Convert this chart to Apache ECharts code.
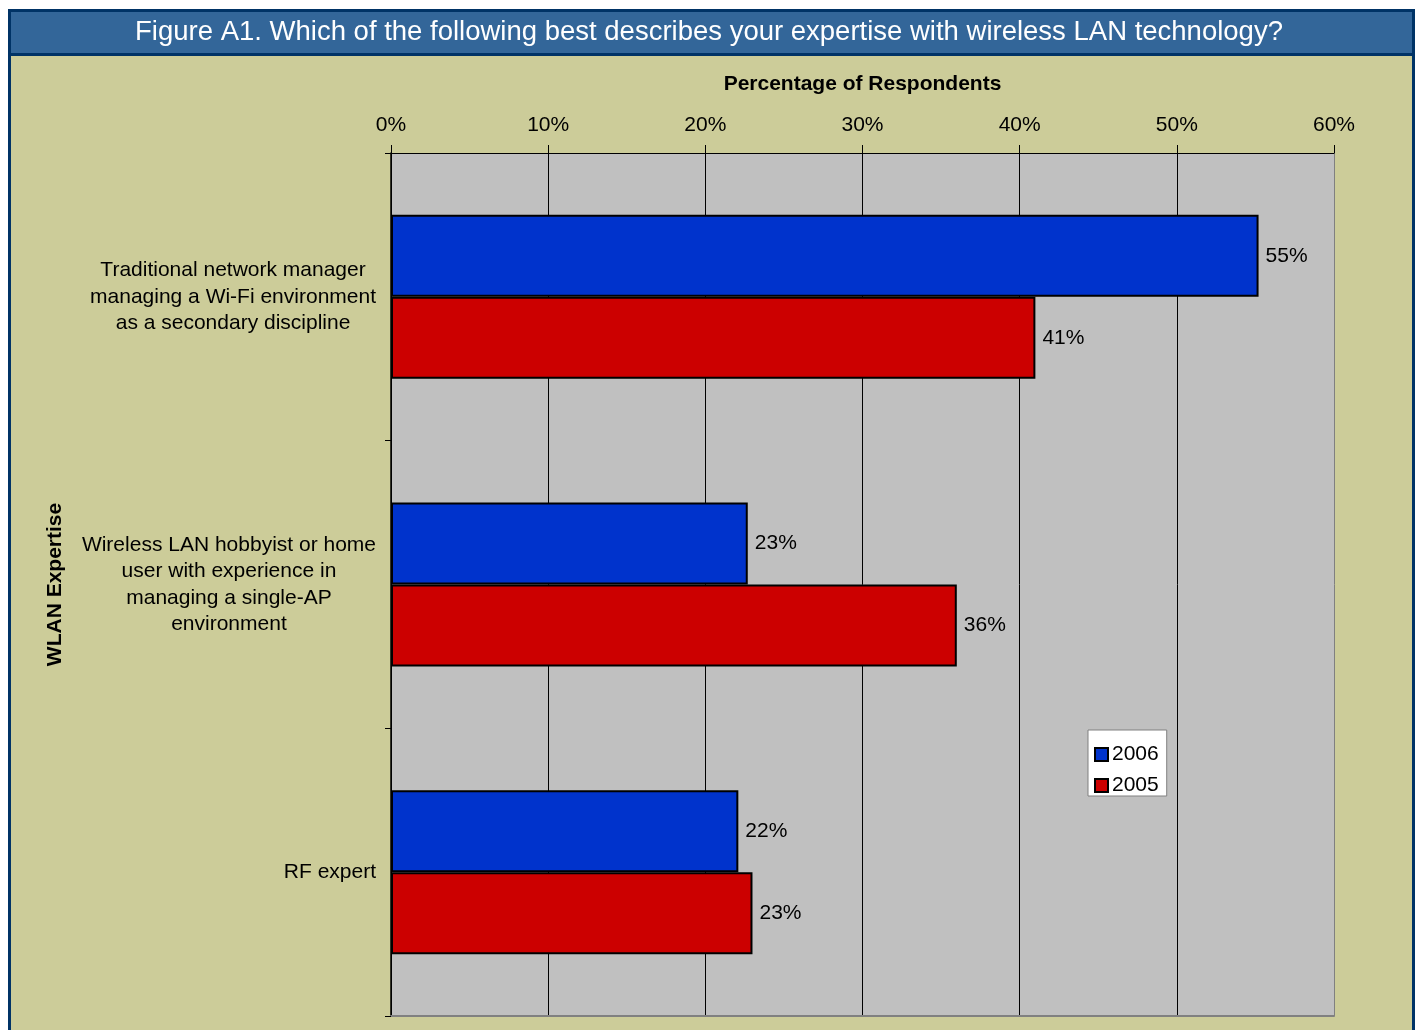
<!DOCTYPE html>
<html>
<head>
<meta charset="utf-8">
<script src="https://cdn.jsdelivr.net/npm/echarts@6/dist/echarts.min.js"></script>
<style>
html,body{margin:0;padding:0;background:#ffffff;}
#chart{width:1418px;height:1030px;}
</style>
</head>
<body>
<div id="chart"></div>
<script>
var titleText = 'Figure A1. Which of the following best describes your expertise with wireless LAN technology?';
var categories = [
  'Traditional network manager\nmanaging a Wi-Fi environment\nas a secondary discipline',
  'Wireless LAN hobbyist or home\nuser with experience in\nmanaging a single-AP\nenvironment',
  'RF expert'
];
var seriesNames = ['2006', '2005'];
var values2006 = [55.2, 22.7, 22.1];
var values2005 = [41.0, 36.0, 23.0];
var xTicks = [0, 10, 20, 30, 40, 50, 60];
var xAxisTitle = 'Percentage of Respondents';
var yAxisTitle = 'WLAN Expertise';

var FONT = '"Liberation Sans", Arial, sans-serif';
var chart = echarts.init(document.getElementById('chart'));

var splitColors = xTicks.map(function (t, i) { return i === xTicks.length - 1 ? '#808080' : '#000000'; });

function labelFmt(p) { return Math.round(p.value) + '%'; }

var option = {
  backgroundColor: '#ffffff',
  animation: false,
  textStyle: { fontFamily: FONT },
  graphic: [
    { type: 'rect', z: -10, shape: { x: 9.5, y: 10.5, width: 1404, height: 1040 },
      style: { fill: '#CCCC99', stroke: '#003366', lineWidth: 3 } },
    { type: 'rect', z: -9, shape: { x: 9.5, y: 10.5, width: 1404, height: 44 },
      style: { fill: '#336699', stroke: '#003366', lineWidth: 3 } },
    { type: 'text', z: 10, left: 'center', top: 18,
      style: { text: titleText, fill: '#ffffff', font: '27.5px ' + FONT } }
  ],
  grid: {
    left: 391, right: 1418 - 1334, top: 153, bottom: 1030 - 1016,
    show: true, backgroundColor: '#C0C0C0', borderWidth: 0, containLabel: false
  },
  legend: {
    orient: 'vertical', left: 1088, top: 730,
    backgroundColor: '#ffffff', borderColor: '#808080', borderWidth: 1,
    padding: [14, 8, 0, 6], itemGap: 10, itemWidth: 13, itemHeight: 13,
    icon: 'rect',
    textStyle: { fontSize: 21, color: '#000', fontFamily: FONT, padding: [0, 0, 0, -1] },
    data: seriesNames
  },
  xAxis: [
    {
      type: 'value', position: 'top', min: 0, max: 60, interval: 10,
      name: xAxisTitle, nameLocation: 'middle', nameGap: 58,
      nameTextStyle: { fontSize: 21, fontWeight: 'bold', color: '#000' },
      axisLine: { show: true, lineStyle: { color: '#000', width: 1 } },
      axisTick: { show: true, length: 8, lineStyle: { color: '#000' } },
      axisLabel: { fontSize: 21, color: '#000', margin: 17, formatter: '{value}%' },
      splitLine: { show: true, lineStyle: { color: splitColors, width: 1 } }
    },
    {
      type: 'value', position: 'bottom', min: 0, max: 60,
      axisLine: { show: true, onZero: false, lineStyle: { color: '#808080', width: 2 } },
      axisTick: { show: false }, axisLabel: { show: false }, splitLine: { show: false }
    }
  ],
  yAxis: {
    type: 'category', inverse: true, data: categories,
    name: yAxisTitle, nameLocation: 'middle', nameGap: 325, nameRotate: 90,
    nameTextStyle: { fontSize: 21, fontWeight: 'bold', color: '#000' },
    axisLine: { show: true, lineStyle: { color: '#000', width: 1.5 } },
    axisTick: { show: true, length: 6, alignWithLabel: false, lineStyle: { color: '#000' } },
    axisLabel: {
      margin: 15, color: '#000', fontSize: 21,
      formatter: function (v) {
        return v.split('\n').map(function (l) { return '{c|' + l + '}'; }).join('\n');
      },
      rich: { c: { align: 'center', fontSize: 21, lineHeight: 26.5, color: '#000', fontFamily: FONT } }
    }
  },
  series: [
    {
      name: seriesNames[0], type: 'bar', data: values2006, xAxisIndex: 0,
      barGap: '0%', barCategoryGap: '43%',
      itemStyle: { color: '#0033CC', borderColor: '#000', borderWidth: 2 },
      label: { show: true, position: 'right', distance: 7, fontSize: 21, color: '#000', formatter: labelFmt }
    },
    {
      name: seriesNames[1], type: 'bar', data: values2005, xAxisIndex: 0,
      barGap: '0%', barCategoryGap: '43%',
      itemStyle: { color: '#CC0000', borderColor: '#000', borderWidth: 2 },
      label: { show: true, position: 'right', distance: 7, fontSize: 21, color: '#000', formatter: labelFmt }
    }
  ]
};
chart.setOption(option);
</script>
</body>
</html>
